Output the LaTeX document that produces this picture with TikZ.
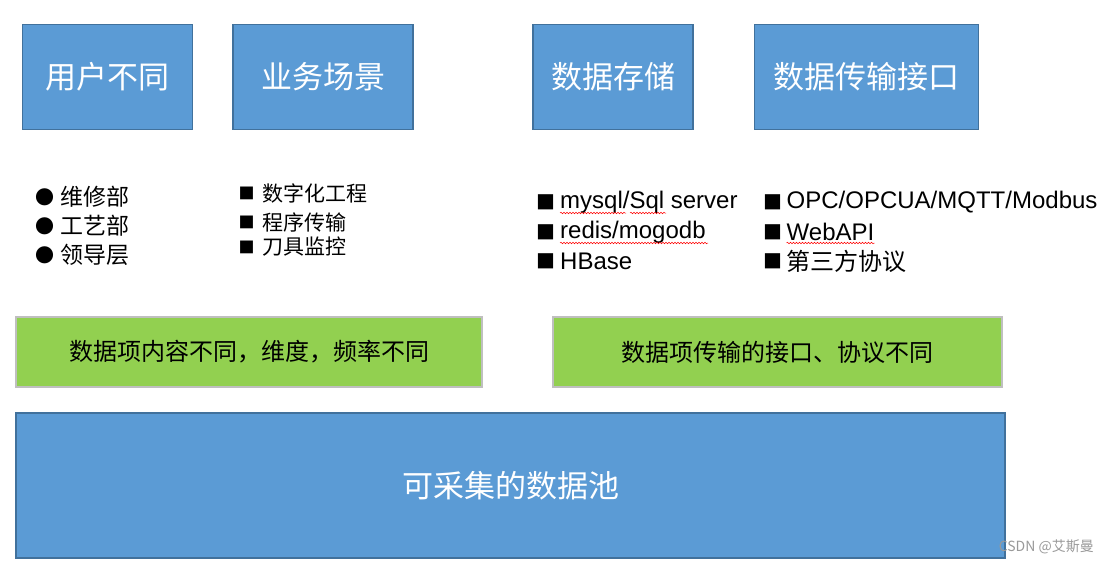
\documentclass[tikz,border=0pt]{standalone}
\usepackage{fontspec}
\setmainfont{Liberation Sans}
\newfontfamily\cjk{Noto Sans CJK SC}
\usetikzlibrary{decorations.pathmorphing}
\definecolor{boxblue}{HTML}{5B9BD5}
\definecolor{boxedge}{HTML}{41719C}
\definecolor{boxgreen}{HTML}{92D050}
\definecolor{greenedge}{HTML}{BFBFBF}
\tikzset{
  topbox/.style={draw=boxedge, line width=1.5pt, fill=boxblue, text=white, font=\cjk\fontsize{31}{34}\selectfont, inner sep=0pt},
  greenbox/.style={draw=greenedge, line width=1.5pt, fill=boxgreen, text=black, font=\cjk\fontsize{24}{28}\selectfont, inner sep=0pt},
  poolbox/.style={draw=boxedge, line width=1.5pt, fill=boxblue, text=white, font=\cjk\fontsize{31}{34}\selectfont, inner sep=0pt},
  listitem/.style={anchor=west, inner sep=0pt, text=black},
  cjkitem/.style={listitem, font=\cjk\fontsize{23}{26}\selectfont},
  latitem/.style={listitem, font=\fontsize{24}{27}\selectfont},
  bulletmark/.style={anchor=center, inner sep=0pt, font=\cjk\fontsize{19}{21}\selectfont},
  squiggle/.style={draw=red, line width=0.5pt, decorate, decoration={snake, amplitude=0.8pt, segment length=3pt}},
}
\begin{document}
\begin{tikzpicture}[x=1pt, y=-1pt]
\useasboundingbox (0,0) rectangle (1110,564);
% top boxes
\node[topbox, minimum width=170pt, minimum height=105pt] (users) at (107.5,77) {用户不同};
\node[topbox, minimum width=180pt, minimum height=105pt] (biz) at (323,77) {业务场景};
\node[topbox, minimum width=160pt, minimum height=105pt] (store) at (613,77) {数据存储};
\node[topbox, minimum width=224pt, minimum height=105pt] (trans) at (866.5,77) {数据传输接口};
% column 1
\node[bulletmark] (b11) at (45,197) {●};
\node[bulletmark] (b12) at (45,226) {●};
\node[bulletmark] (b13) at (45,255) {●};
\node[cjkitem] (t11) at (60,197) {维修部};
\node[cjkitem] (t12) at (60,226) {工艺部};
\node[cjkitem] (t13) at (60,255) {领导层};
% column 2
\node[bulletmark, font=\cjk\fontsize{16}{18}\selectfont] (b21) at (246.5,193) {■};
\node[bulletmark, font=\cjk\fontsize{16}{18}\selectfont] (b22) at (246.5,222) {■};
\node[bulletmark, font=\cjk\fontsize{16}{18}\selectfont] (b23) at (246.5,247) {■};
\node[cjkitem, font=\cjk\fontsize{21}{24}\selectfont] (t21) at (262,193) {数字化工程};
\node[cjkitem, font=\cjk\fontsize{21}{24}\selectfont] (t22) at (262,222) {程序传输};
\node[cjkitem, font=\cjk\fontsize{21}{24}\selectfont] (t23) at (262,247) {刀具监控};
% column 3
\node[bulletmark] (b31) at (545.5,202) {■};
\node[bulletmark] (b32) at (545.5,232) {■};
\node[bulletmark] (b33) at (545.5,261) {■};
\node[latitem] (t31) at (560,202) {mysql/Sql server};
\node[latitem] (t32) at (560,232) {redis/mogodb};
\node[latitem] (t33) at (560,261) {HBase};
% column 4
\node[bulletmark] (b41) at (772.5,202) {■};
\node[bulletmark] (b42) at (772.5,232) {■};
\node[bulletmark] (b43) at (772.5,261) {■};
\node[latitem] (t41) at (786.5,202) {OPC/OPCUA/MQTT/Modbus};
\node[latitem] (t42) at (786.5,232) {WebAPI};
\node[cjkitem, font=\cjk\fontsize{24}{27}\selectfont] (t43) at (786.5,261) {第三方协议};
% spell-check squiggles
\draw[squiggle] (560,213) -- (626,213);
\draw[squiggle] (630,213) -- (666,213);
\draw[squiggle] (560,243) -- (708,243);
\draw[squiggle] (786.5,243) -- (874.5,243);
% green boxes
\node[greenbox, minimum width=466pt, minimum height=70pt] (diffA) at (249,352) {数据项内容不同，维度，频率不同};
\node[greenbox, minimum width=449pt, minimum height=70pt] (diffB) at (777.5,352) {数据项传输的接口、协议不同};
% pool
\node[poolbox, minimum width=989pt, minimum height=145pt] (pool) at (510.5,485.5) {可采集的数据池};
% watermark
\node[anchor=east, inner sep=0pt, text=gray!80, font=\cjk\fontsize{14}{16}\selectfont] (wm) at (1094,547) {CSDN @艾斯曼};
\end{tikzpicture}
\end{document}
